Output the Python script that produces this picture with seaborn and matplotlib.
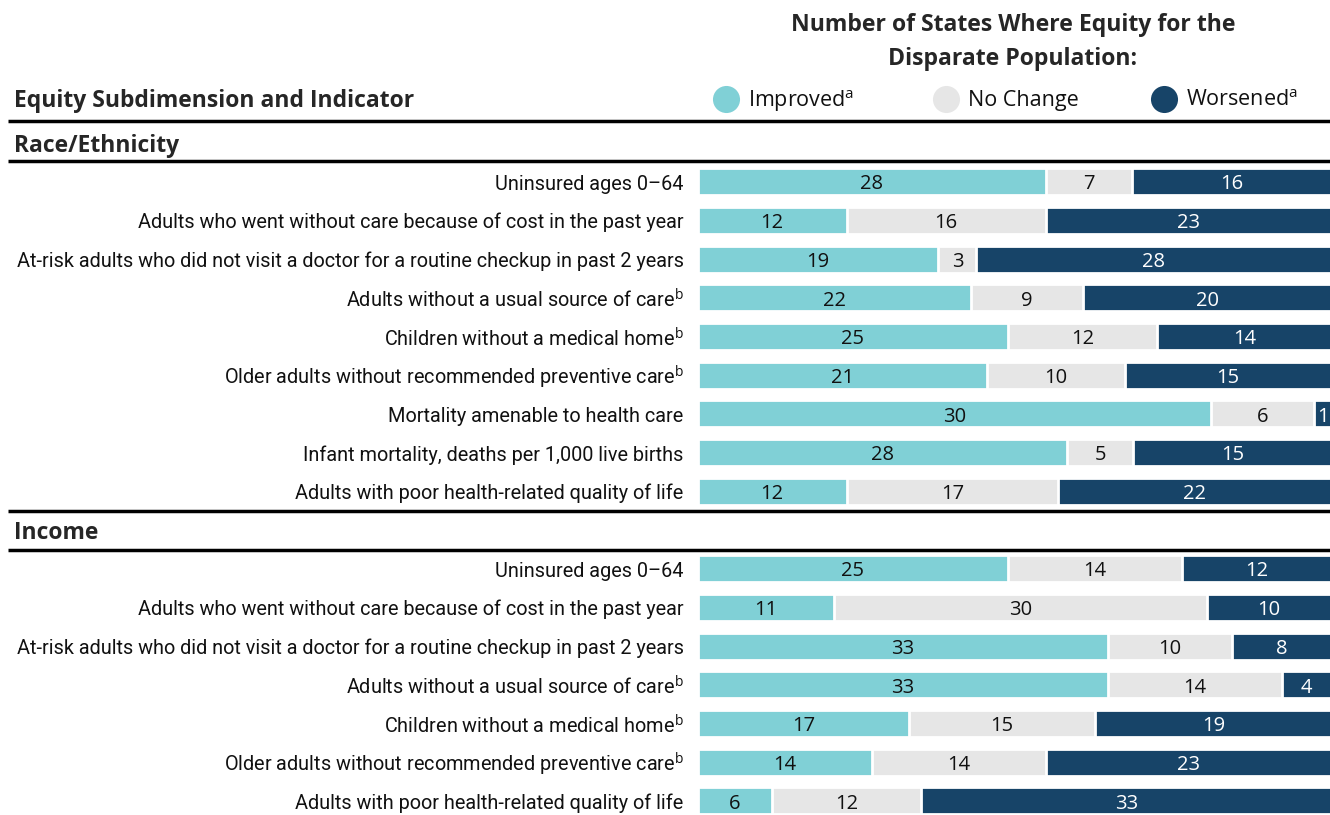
import matplotlib
matplotlib.use("Agg")
import matplotlib.pyplot as plt
import seaborn as sns
import pandas as pd

# Data (number of states)
race_labels = [
    "Uninsured ages 0\u201364",
    "Adults who went without care because of cost in the past year",
    "At-risk adults who did not visit a doctor for a routine checkup in past 2 years",
    "Adults without a usual source of care$^{\\mathrm{b}}$",
    "Children without a medical home$^{\\mathrm{b}}$",
    "Older adults without recommended preventive care$^{\\mathrm{b}}$",
    "Mortality amenable to health care",
    "Infant mortality, deaths per 1,000 live births",
    "Adults with poor health-related quality of life",
]
race_improved = [28, 12, 19, 22, 25, 21, 30, 28, 12]
race_nochange = [7, 16, 3, 9, 12, 10, 6, 5, 17]
race_worsened = [16, 23, 28, 20, 14, 15, 1, 15, 22]

income_labels = [
    "Uninsured ages 0\u201364",
    "Adults who went without care because of cost in the past year",
    "At-risk adults who did not visit a doctor for a routine checkup in past 2 years",
    "Adults without a usual source of care$^{\\mathrm{b}}$",
    "Children without a medical home$^{\\mathrm{b}}$",
    "Older adults without recommended preventive care$^{\\mathrm{b}}$",
    "Adults with poor health-related quality of life",
]
income_improved = [25, 11, 33, 33, 17, 14, 6]
income_nochange = [14, 30, 10, 14, 15, 14, 12]
income_worsened = [12, 10, 8, 4, 19, 23, 33]

sections = ["Race/Ethnicity", "Income"]
legend_labels = ["Improved$^{\\mathrm{a}}$", "No Change", "Worsened$^{\\mathrm{a}}$"]
colors = ["#80D0D6", "#E6E6E6", "#174468"]

NARROW = ["Roboto", "DejaVu Sans"]
REG = ["Open Sans", "DejaVu Sans"]

sns.set_theme(style="white")
plt.rcParams["font.family"] = REG
plt.rcParams["mathtext.fontset"] = "custom"
plt.rcParams["mathtext.rm"] = "Open Sans"

# one slot per row, header slots stay empty
rows = []
order = ["h_race"]
for i, lab in enumerate(race_labels):
    rows.append(dict(slot=f"r{i}", label=lab, imp=race_improved[i],
                     nc=race_nochange[i], wor=race_worsened[i]))
    order.append(f"r{i}")
order.append("h_inc")
for i, lab in enumerate(income_labels):
    rows.append(dict(slot=f"i{i}", label=lab, imp=income_improved[i],
                     nc=income_nochange[i], wor=income_worsened[i]))
    order.append(f"i{i}")
df = pd.DataFrame(rows)
df["tot"] = df["imp"] + df["nc"] + df["wor"]
df["c_imp"] = df["imp"] / df["tot"]
df["c_nc"] = (df["imp"] + df["nc"]) / df["tot"]
df["c_wor"] = 1.0

fig = plt.figure(figsize=(13.3, 8.15), dpi=100)
ax = fig.add_axes([0, 0, 1, 1])

for col, c in zip(["c_wor", "c_nc", "c_imp"], colors[::-1]):
    sns.barplot(data=df, x=col, y="slot", order=order, orient="h", color=c,
                width=0.7, edgecolor="white", linewidth=2, saturation=1, ax=ax)

# pixel-like layout: x=0 at bar start, 1 at right edge; y in slot units
step = 38.7
ax.set_xlim(-697 / 633, 0.998)
ax.set_ylim((815 - 143) / step, -143 / step)
ax.axis("off")

pos = {s: k for k, s in enumerate(order)}
for _, r in df.iterrows():
    y = pos[r["slot"]]
    ax.text(-14 / 633, y + 0.06, r["label"], ha="right", va="center",
            fontsize=14.35, family=NARROW, color="#111111")
    starts = [0, r["c_imp"], r["c_nc"]]
    ends = [r["c_imp"], r["c_nc"], 1.0]
    for v, s0, s1, tc in zip([r["imp"], r["nc"], r["wor"]], starts, ends,
                             ["#111111", "#111111", "white"]):
        ax.text((s0 + s1) / 2, y + 0.07, str(v), ha="center", va="center",
                fontsize=14.5, color=tc)

# section headers and rules
ax.text(-683 / 633, pos["h_race"] + 0.07, sections[0], ha="left", va="center",
        fontsize=16.5, fontweight="bold")
ax.text(-683 / 633, pos["h_inc"] + 0.07, sections[1], ha="left", va="center",
        fontsize=16.5, fontweight="bold")
ax.text(-683 / 633, (101 - 143) / step, "Equity Subdimension and Indicator",
        ha="left", va="center", fontsize=16.5, fontweight="bold")
for yp in [121, 161, 511, 550]:
    ax.plot([-689 / 633, 1.0], [(yp - 143) / step] * 2, color="black",
            lw=2.5, solid_capstyle="butt", clip_on=False)

# title above legend
ax.text((1012 - 697) / 633, (25 - 143) / step,
        "Number of States Where Equity for the", ha="center", va="center",
        fontsize=16.6, fontweight="bold")
ax.text((1012 - 697) / 633, (59 - 143) / step, "Disparate Population:",
        ha="center", va="center", fontsize=16.6, fontweight="bold")

# legend
for xp, lab, c in zip([725, 945, 1163], legend_labels, colors):
    ax.scatter([(xp - 697) / 633], [(99 - 143) / step], s=380, color=c,
               clip_on=False, linewidths=0)
    ax.text((xp + 22 - 697) / 633, (101 - 143) / step, lab, ha="left",
            va="center", fontsize=15.5, color="#111111")

fig.savefig("out.png", dpi=100)
